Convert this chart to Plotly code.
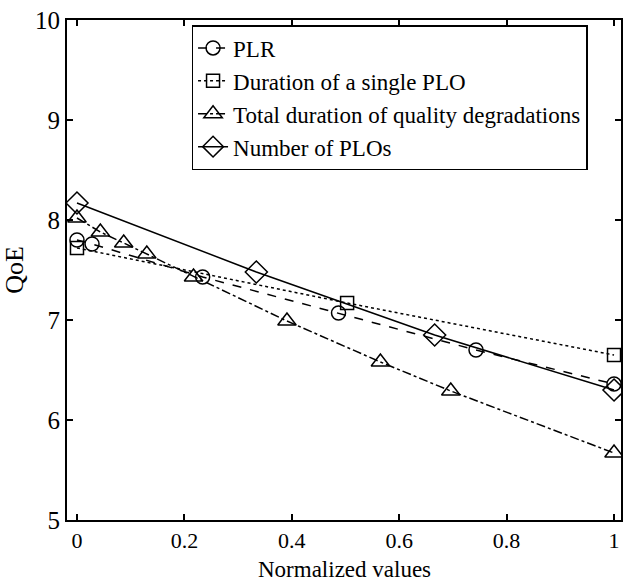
import plotly.graph_objects as go

# Data
plr_x = [0.0, 0.028, 0.234, 0.487, 0.743, 1.0]
plr_y = [7.80, 7.76, 7.43, 7.07, 6.70, 6.36]

dur_x = [0.0, 0.503, 1.0]
dur_y = [7.72, 7.17, 6.65]

tot_x = [0.0, 0.0435, 0.087, 0.13, 0.217, 0.391, 0.565, 0.696, 1.0]
tot_y = [8.02, 7.88, 7.77, 7.66, 7.43, 6.99, 6.58, 6.29, 5.67]

num_x = [0.0, 0.334, 0.666, 1.0]
num_y = [8.17, 7.48, 6.85, 6.30]

names = ["PLR", "Duration of a single PLO",
         "Total duration of quality degradations", "Number of PLOs"]

x_ticks = [0, 0.2, 0.4, 0.6, 0.8, 1]
x_ticklabels = ["0", "0.2", "0.4", "0.6", "0.8", "1"]
y_ticks = [5, 6, 7, 8, 9, 10]

FONT = "Liberation Serif, Times New Roman, serif"

series = [
    (plr_x, plr_y, names[0], "dash", "circle-open", 14),
    (dur_x, dur_y, names[1], "dot", "square-open", 13),
    (tot_x, tot_y, names[2], "dashdot", "triangle-up-open", 16),
    (num_x, num_y, names[3], "solid", "diamond-open", 17),
]

fig = go.Figure()
for xs, ys, nm, dash, sym, size in series:
    fig.add_trace(go.Scatter(
        x=xs, y=ys, name=nm, mode="lines+markers",
        line=dict(color="black", width=1.5, dash=dash),
        marker=dict(symbol=sym, size=size, color="black",
                    line=dict(color="black", width=1.5)),
    ))

axis_common = dict(
    showline=True, linecolor="black", linewidth=2, mirror="ticks",
    ticks="inside", ticklen=6, tickwidth=1.5, tickcolor="black",
    showgrid=False, zeroline=False,
)

BOTTOM = 62
PLOT_H = 582 - 20 - BOTTOM
PLOT_BOTTOM_PX = 582 - BOTTOM

fig.update_layout(
    width=625, height=582,
    margin=dict(l=67, r=2, t=20, b=BOTTOM),
    paper_bgcolor="white", plot_bgcolor="white",
    font=dict(family=FONT, color="black"),
    showlegend=True,
    legend=dict(
        x=(192 - 67) / 556, y=0.99, xanchor="left", yanchor="top",
        bgcolor="white", bordercolor="black", borderwidth=1.5,
        font=dict(family=FONT, size=23, color="black"),
        tracegroupgap=0, itemwidth=30,
    ),
    xaxis=dict(
        range=[-0.0186, 1.013], tickvals=x_ticks, ticktext=x_ticklabels,
        tickfont=dict(family=FONT, size=22, color="black"),
        **axis_common,
    ),
    yaxis=dict(
        range=[5, 10], tickvals=y_ticks,
        tickfont=dict(family=FONT, size=25, color="black"),
        title=dict(text="QoE", standoff=14,
                   font=dict(family=FONT, size=26, color="black")),
        **axis_common,
    ),
    annotations=[dict(
        text="Normalized values", xref="paper", yref="paper",
        x=0.5, y=-(583 - PLOT_BOTTOM_PX) / PLOT_H,
        xanchor="center", yanchor="bottom", showarrow=False,
        borderpad=0,
        font=dict(family=FONT, size=23, color="black"),
    )],
)

fig.write_html("out.html")
